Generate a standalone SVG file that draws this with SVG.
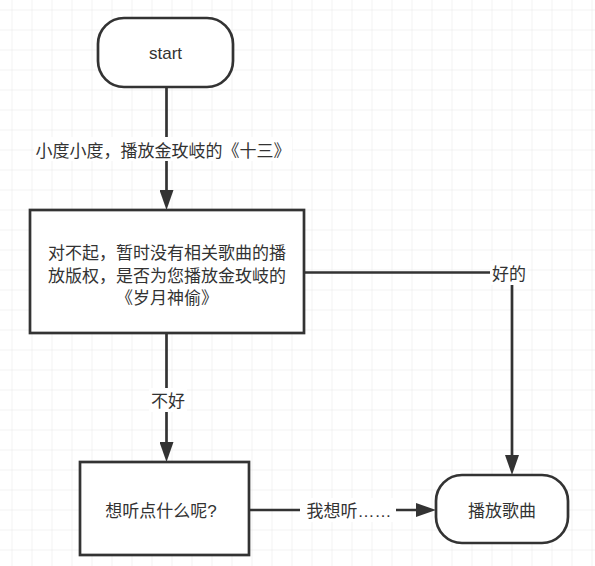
<svg xmlns="http://www.w3.org/2000/svg" width="595" height="566" viewBox="0 0 595 566">
  <defs>
    <pattern id="grid" x="11.5" y="9.5" width="20" height="20" patternUnits="userSpaceOnUse">
      <path d="M0 0 H20 M0 0 V20" fill="none" stroke="#e6e6e6" stroke-width="1"/>
    </pattern>
    <marker id="arrow" viewBox="0 0 20 14" markerWidth="20" markerHeight="14" refX="0" refY="7" markerUnits="userSpaceOnUse" orient="auto">
      <path d="M0 0 L20 7 L0 14 Z" fill="#333333"/>
    </marker>
    <style>
      .shape { fill: #ffffff; stroke: #333333; stroke-width: 2.7; }
      .edge { fill: none; stroke: #333333; stroke-width: 2.7; marker-end: url(#arrow); }
      .txt { font-family: "Liberation Sans", "Noto Sans CJK SC", sans-serif; font-size: 17px; fill: #333333; text-anchor: middle; }
      .lblbg { fill: #ffffff; stroke: none; }
    </style>
  </defs>
  <rect x="0" y="0" width="595" height="566" fill="#ffffff"/>
  <rect x="0" y="0" width="595" height="566" fill="url(#grid)"/>

  <g id="connectors">
    <g id="edge-start-ask">
      <path class="edge" d="M166.5 87 V190"/>
      <rect class="lblbg" x="34" y="137" width="258" height="24"/>
      <text class="txt" x="163" y="156.5">小度小度，播放金玫岐的《十三》</text>
    </g>
    <g id="edge-ask-no">
      <path class="edge" d="M166.5 333 V442"/>
      <rect class="lblbg" x="149" y="388" width="38" height="24"/>
      <text class="txt" x="168" y="406.5">不好</text>
    </g>
    <g id="edge-ask-yes">
      <path class="edge" d="M304 272.5 H512 V455"/>
      <rect class="lblbg" x="490" y="261" width="38" height="24"/>
      <text class="txt" x="509" y="279.5">好的</text>
    </g>
    <g id="edge-what-play">
      <path class="edge" d="M249 510 H416"/>
      <rect class="lblbg" x="300" y="498" width="96" height="24"/>
      <text class="txt" x="349" y="516.5">我想听……</text>
    </g>
  </g>

  <g id="node-start">
    <rect class="shape" x="98" y="18" width="135" height="69" rx="26" ry="26"/>
    <text class="txt" x="165.5" y="59">start</text>
  </g>

  <g id="node-ask">
    <rect class="shape" x="30" y="210" width="274" height="123"/>
    <text class="txt" x="167" y="258.5">对不起，暂时没有相关歌曲的播</text>
    <text class="txt" x="167" y="281.5">放版权，是否为您播放金玫岐的</text>
    <text class="txt" x="167" y="303.5">《岁月神偷》</text>
  </g>

  <g id="node-what">
    <rect class="shape" x="80" y="462" width="169" height="93"/>
    <text class="txt" x="161" y="516.5">想听点什么呢?</text>
  </g>

  <g id="node-play">
    <rect class="shape" x="436" y="475" width="132" height="68" rx="26" ry="26"/>
    <text class="txt" x="502" y="516.5">播放歌曲</text>
  </g>
</svg>
